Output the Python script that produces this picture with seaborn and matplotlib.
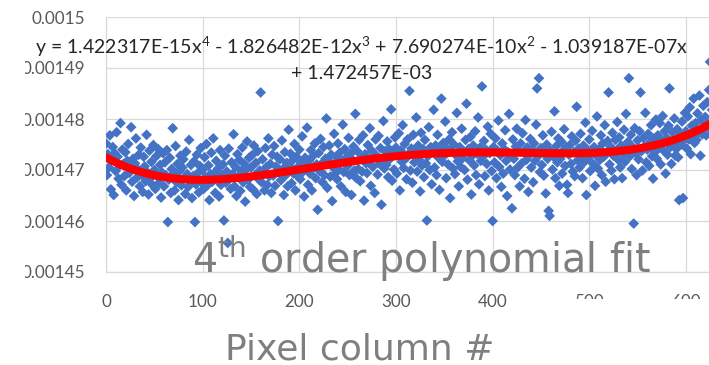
import numpy as np
import pandas as pd
import matplotlib
matplotlib.use("Agg")
import matplotlib.pyplot as plt
import seaborn as sns
from matplotlib.patches import Rectangle
from matplotlib.ticker import FixedLocator, FixedFormatter

# Column-averaged signal, one value per pixel column (units of 1e-7)
signal_e7 = [
    14752, 14690, 14731, 14705, 14768, 14662, 14719, 14745, 14651, 14733,
    14698, 14774, 14726, 14683, 14709, 14792, 14671, 14740, 14712, 14688,
    14735, 14660, 14718, 14751, 14694, 14706, 14784, 14677, 14722, 14649,
    14713, 14762, 14685, 14701, 14730, 14668, 14744, 14690, 14657, 14726,
    14707, 14678, 14769, 14695, 14652, 14738, 14684, 14716, 14671, 14749,
    14700, 14663, 14727, 14688, 14741, 14675, 14710, 14646, 14695, 14733,
    14668, 14715, 14690, 14739, 14598, 14681, 14724, 14655, 14702, 14782,
    14693, 14660, 14747, 14676, 14712, 14641, 14698, 14728, 14670, 14705,
    14721, 14684, 14653, 14736, 14692, 14667, 14759, 14679, 14710, 14645,
    14688, 14717, 14598, 14672, 14730, 14694, 14656, 14708, 14743, 14675,
    14700, 14663, 14725, 14686, 14751, 14670, 14709, 14641, 14692, 14734,
    14677, 14762, 14694, 14655, 14718, 14683, 14703, 14648, 14739, 14671,
    14690, 14711, 14601, 14728, 14675, 14697, 14557, 14742, 14684, 14663,
    14715, 14692, 14770, 14668, 14706, 14649, 14731, 14687, 14720, 14659,
    14698, 14744, 14676, 14712, 14638, 14701, 14756, 14681, 14724, 14667,
    14705, 14729, 14662, 14748, 14690, 14714, 14653, 14737, 14682, 14699,
    14852, 14676, 14721, 14694, 14660, 14743, 14706, 14671, 14762, 14688,
    14712, 14655, 14730, 14689, 14747, 14669, 14707, 14726, 14600, 14695,
    14721, 14680, 14758, 14702, 14651, 14735, 14690, 14714, 14668, 14779,
    14708, 14732, 14674, 14719, 14693, 14751, 14660, 14726, 14705, 14687,
    14740, 14682, 14715, 14766, 14697, 14648, 14724, 14709, 14783, 14671,
    14718, 14693, 14739, 14660, 14727, 14705, 14752, 14684, 14711, 14622,
    14733, 14698, 14761, 14712, 14676, 14745, 14690, 14722, 14801, 14665,
    14719, 14748, 14687, 14730, 14639, 14705, 14771, 14693, 14726, 14682,
    14752, 14701, 14734, 14668, 14718, 14789, 14696, 14741, 14657, 14725,
    14708, 14763, 14690, 14732, 14651, 14720, 14746, 14699, 14810, 14684,
    14737, 14702, 14759, 14678, 14724, 14697, 14768, 14640, 14731, 14713,
    14694, 14749, 14715, 14782, 14669, 14738, 14706, 14725, 14655, 14760,
    14728, 14691, 14767, 14712, 14743, 14632, 14720, 14796, 14703, 14737,
    14710, 14756, 14686, 14741, 14722, 14819, 14679, 14735, 14701, 14764,
    14744, 14693, 14729, 14772, 14660, 14738, 14716, 14788, 14704, 14751,
    14722, 14682, 14760, 14731, 14855, 14699, 14742, 14675, 14769, 14715,
    14736, 14803, 14697, 14748, 14720, 14658, 14773, 14709, 14741, 14686,
    14759, 14713, 14601, 14727, 14784, 14700, 14745, 14672, 14736, 14818,
    14705, 14748, 14690, 14769, 14724, 14661, 14740, 14840, 14716, 14753,
    14728, 14795, 14684, 14742, 14711, 14760, 14645, 14737, 14774, 14703,
    14750, 14692, 14729, 14812, 14717, 14668, 14745, 14706, 14781, 14723,
    14735, 14700, 14759, 14830, 14681, 14741, 14719, 14765, 14652, 14728,
    14748, 14709, 14776, 14690, 14732, 14803, 14672, 14744, 14718, 14864,
    14726, 14757, 14688, 14740, 14712, 14785, 14660, 14733, 14771, 14698,
    14600, 14745, 14715, 14762, 14684, 14738, 14797, 14706, 14729, 14667,
    14752, 14693, 14741, 14778, 14718, 14649, 14735, 14810, 14701, 14727,
    14625, 14760, 14722, 14690, 14746, 14781, 14705, 14737, 14668, 14752,
    14713, 14772, 14735, 14683, 14798, 14720, 14744, 14657, 14729, 14761,
    14705, 14740, 14676, 14752, 14718, 14789, 14860, 14727, 14880, 14696,
    14743, 14710, 14768, 14689, 14731, 14654, 14750, 14722, 14620, 14610,
    14738, 14775, 14701, 14726, 14815, 14684, 14747, 14715, 14762, 14669,
    14722, 14756, 14693, 14738, 14780, 14708, 14745, 14671, 14655, 14730,
    14749, 14712, 14766, 14697, 14735, 14688, 14758, 14824, 14719, 14742,
    14705, 14771, 14727, 14684, 14748, 14716, 14793, 14651, 14739, 14723,
    14760, 14698, 14733, 14777, 14712, 14745, 14669, 14729, 14805, 14703,
    14741, 14720, 14768, 14690, 14752, 14726, 14788, 14677, 14734, 14757,
    14852, 14711, 14746, 14699, 14773, 14728, 14682, 14759, 14738, 14794,
    14720, 14764, 14705, 14748, 14684, 14731, 14779, 14716, 14810, 14742,
    14755, 14880, 14727, 14769, 14702, 14745, 14595, 14782, 14733, 14690,
    14758, 14721, 14776, 14852, 14737, 14699, 14763, 14746, 14812, 14715,
    14740, 14771, 14708, 14755, 14788, 14727, 14683, 14762, 14735, 14799,
    14722, 14768, 14745, 14792, 14711, 14757, 14806, 14738, 14776, 14693,
    14763, 14730, 14787, 14860, 14745, 14712, 14774, 14752, 14801, 14728,
    14741, 14780, 14725, 14641, 14768, 14750, 14795, 14645, 14759, 14812,
    14776, 14742, 14805, 14760, 14823, 14731, 14787, 14768, 14840, 14753,
    14792, 14759, 14811, 14774, 14846, 14728, 14798, 14770, 14826, 14785,
    14804, 14768, 14833, 14790, 14857, 14912, 14779, 14818, 14795, 14842,
]

# Trendline coefficients as printed on the chart (highest power first)
fit_coeffs = [1.422317e-15, -1.826482e-12, 7.690274e-10, -1.039187e-07, 1.472457e-03]

y_ticks = [0.00145, 0.00146, 0.00147, 0.00148, 0.00149, 0.0015]
y_tick_labels = ["0.00145", "0.00146", "0.00147", "0.00148", "0.00149", "0.0015"]
x_ticks = [0, 100, 200, 300, 400, 500, 600]
x_tick_labels = ["0", "100", "200", "300", "400", "500", "600"]

equation_line1 = (r"y = 1.422317E-15x$\mathdefault{^4}$ - 1.826482E-12x$\mathdefault{^3}$"
                  r" + 7.690274E-10x$\mathdefault{^2}$ - 1.039187E-07x")
equation_line2 = "+ 1.472457E-03"
overlay_title = r"$\mathdefault{4^{th}}$ order polynomial fit"
x_title = "Pixel column #"

df = pd.DataFrame({"column": np.arange(len(signal_e7)),
                   "signal": np.array(signal_e7) * 1e-7})
fit_x = np.linspace(0, len(signal_e7) + 10, 400)
fit_df = pd.DataFrame({"column": fit_x, "signal": np.polyval(fit_coeffs, fit_x)})

sns.set_style("white")
plt.rcParams["font.family"] = ["Lato", "DejaVu Sans"]

W, H = 709, 365
fig = plt.figure(figsize=(W / 100, H / 100), dpi=100)
x0_px, top_px, bot_px, px_per_100 = 106, 17, 272, 96.65
ax = fig.add_axes([x0_px / W, 1 - bot_px / H, 7 * px_per_100 / W, (bot_px - top_px) / H])

sns.scatterplot(data=df, x="column", y="signal", ax=ax, marker="D", s=30,
                color="#4472C4", edgecolor="none", linewidth=0, zorder=3, legend=False)
sns.lineplot(data=fit_df, x="column", y="signal", ax=ax, color="#FF0000",
             linewidth=5.8, zorder=4, legend=False)

ax.set_xlim(0, 700)
ax.set_ylim(0.00145, 0.0015)
ax.xaxis.set_major_locator(FixedLocator(x_ticks))
ax.xaxis.set_major_formatter(FixedFormatter(x_tick_labels))
ax.yaxis.set_major_locator(FixedLocator(y_ticks))
ax.yaxis.set_major_formatter(FixedFormatter(y_tick_labels))
ax.set_xlabel("")
ax.set_ylabel("")
ax.grid(True, color="#D9D9D9", linewidth=0.9, zorder=0)
ax.set_axisbelow(True)
for side in ["top", "right"]:
    ax.spines[side].set_visible(False)
for side in ["left", "bottom"]:
    ax.spines[side].set_color("#D9D9D9")
    ax.spines[side].set_linewidth(0.9)
ax.tick_params(axis="both", length=0, labelsize=12.3, labelcolor="#595959")
ax.tick_params(axis="y", pad=15)
ax.tick_params(axis="x", pad=16)

# White margin trimming the long axis labels on the left
fig.patches.append(Rectangle((0, 1 - 290 / H), 25 / W, 235 / H,
                             transform=fig.transFigure, facecolor="white",
                             edgecolor="none", zorder=5))
# White text box partly hiding the last axis labels
fig.patches.append(Rectangle((540 / W, 1 - 322 / H), (W - 540) / W, 23 / H,
                             transform=fig.transFigure, facecolor="white",
                             edgecolor="none", zorder=5))

# Trendline equation label
eq_kw = dict(ha="center", va="baseline", fontsize=14, color="#262626",
             family=["Lato", "DejaVu Sans"], zorder=6)
fig.text(362 / W, 1 - 54 / H, equation_line1, **eq_kw)
fig.text(362 / W, 1 - 79 / H, equation_line2, **eq_kw)

big_kw = dict(ha="center", va="baseline", color="#7F7F7F",
              family=["DejaVu Sans"], zorder=6)
fig.text(421 / W, 1 - 273 / H, overlay_title, fontsize=28.5, **big_kw)
fig.text(360 / W, 1 - 359 / H, x_title, fontsize=26, **big_kw)

fig.savefig("out.png", dpi=100)
